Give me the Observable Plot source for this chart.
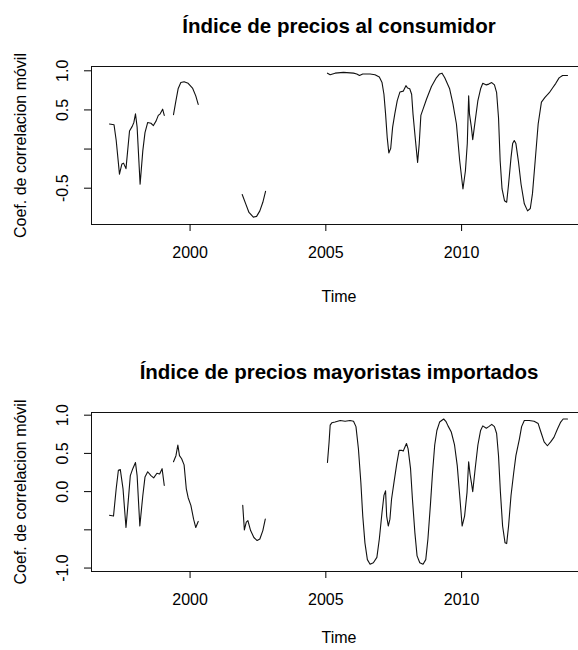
<!DOCTYPE html>
<html>
<head>
<meta charset="utf-8">
<script src="https://cdn.jsdelivr.net/npm/d3@7"></script>
<script src="https://cdn.jsdelivr.net/npm/@observablehq/plot@0.6"></script>
<style>
  html, body { margin: 0; padding: 0; background: #fff; overflow: hidden; }
  #chart { width: 578px; height: 650px; overflow: hidden; position: relative; }
  #chart svg { display: block; overflow: hidden; }
</style>
</head>
<body>
<div id="chart"></div>
<script>
// ---- text ----
const titleCPI = "Índice de precios al consumidor";
const titleIPM = "Índice de precios mayoristas importados";
const yAxisTitle = "Coef. de correlacion móvil";
const xAxisTitle = "Time";

// ---- tick labels ----
const xTicks = [2000, 2005, 2010];
const xTickLabels = ["2000", "2005", "2010"];
const yTicksCPI = [-0.5, 0, 0.5, 1];
const yTickLabelsCPI = ["-0.5", "", "0.5", "1.0"];
const yTicksIPM = [-1, -0.5, 0, 0.5, 1];
const yTickLabelsIPM = ["-1.0", "", "0.0", "0.5", "1.0"];

// ---- series: Índice de precios al consumidor (null = gap) ----
const timeCPI = [
  1997.03, 1997.20, 1997.28, 1997.40, 1997.49, 1997.55, 1997.64, 1997.77, 1997.87, 1997.93,
  1997.99, 1998.05, 1998.16, 1998.26, 1998.34, 1998.44, 1998.56, 1998.65, 1998.75, 1998.83,
  1998.90, 1998.99, 1999.05,
  1999.20,
  1999.39, 1999.48, 1999.56, 1999.66, 1999.78, 1999.93, 2000.09, 2000.21, 2000.30,
  2001.00,
  2001.92, 2002.05, 2002.17, 2002.33, 2002.45, 2002.57, 2002.68, 2002.78,
  2004.00,
  2005.06, 2005.16, 2005.34, 2005.65, 2006.02, 2006.14, 2006.24, 2006.36, 2006.63, 2006.81,
  2006.97, 2007.07, 2007.14, 2007.20, 2007.26, 2007.32, 2007.39, 2007.46, 2007.54, 2007.63,
  2007.73, 2007.85, 2007.95, 2008.01, 2008.09, 2008.16, 2008.21, 2008.29, 2008.38, 2008.44,
  2008.50, 2008.58, 2008.71, 2008.89, 2009.07, 2009.19, 2009.28, 2009.38, 2009.56, 2009.68,
  2009.81, 2009.93, 2010.05, 2010.14, 2010.21, 2010.26, 2010.29, 2010.36, 2010.41, 2010.50,
  2010.60, 2010.70, 2010.78, 2010.91, 2011.00, 2011.11, 2011.21, 2011.29, 2011.36, 2011.42,
  2011.49, 2011.58, 2011.66, 2011.73, 2011.82, 2011.88, 2011.94, 2012.00, 2012.09, 2012.19,
  2012.31, 2012.43, 2012.53, 2012.61, 2012.71, 2012.82, 2012.94, 2013.07, 2013.23, 2013.35,
  2013.47, 2013.59, 2013.72, 2013.90
];
const corrCPI = [
  0.32, 0.31, 0.11, -0.32, -0.19, -0.18, -0.25, 0.23, 0.29, 0.34,
  0.45, 0.28, -0.45, -0.02, 0.21, 0.34, 0.33, 0.30, 0.36, 0.43,
  0.45, 0.51, 0.43,
  null,
  0.44, 0.62, 0.77, 0.85, 0.86, 0.84, 0.78, 0.68, 0.57,
  null,
  -0.58, -0.70, -0.81, -0.87, -0.86, -0.79, -0.68, -0.54,
  null,
  0.97, 0.95, 0.97, 0.98, 0.97, 0.96, 0.94, 0.96, 0.96, 0.95,
  0.92, 0.85, 0.70, 0.45, 0.15, -0.05, 0.01, 0.28, 0.45, 0.62,
  0.73, 0.74, 0.81, 0.78, 0.77, 0.70, 0.45, 0.15, -0.17, 0.07,
  0.43, 0.51, 0.64, 0.80, 0.91, 0.96, 0.97, 0.91, 0.77, 0.58,
  0.32, -0.15, -0.51, -0.28, 0.07, 0.68, 0.45, 0.28, 0.12, 0.36,
  0.62, 0.77, 0.84, 0.82, 0.83, 0.85, 0.82, 0.72, 0.40, -0.15,
  -0.51, -0.66, -0.68, -0.45, -0.11, 0.07, 0.11, 0.07, -0.15, -0.45,
  -0.70, -0.79, -0.76, -0.57, -0.15, 0.32, 0.60, 0.66, 0.72, 0.78,
  0.84, 0.91, 0.94, 0.94
];

// ---- series: Índice de precios mayoristas importados (null = gap) ----
const timeIPM = [
  1997.03, 1997.18, 1997.28, 1997.36, 1997.43, 1997.53, 1997.64, 1997.71, 1997.80, 1997.89,
  1997.99, 1998.05, 1998.15, 1998.26, 1998.34, 1998.44, 1998.56, 1998.66, 1998.78, 1998.88,
  1998.97, 1999.05,
  1999.20,
  1999.39, 1999.48, 1999.55, 1999.61, 1999.69, 1999.78, 1999.86, 1999.93, 2000.03, 2000.13,
  2000.21, 2000.30,
  2001.00,
  2001.94, 2002.00, 2002.07, 2002.13, 2002.23, 2002.35, 2002.47, 2002.57, 2002.68, 2002.77,
  2004.00,
  2005.06, 2005.12, 2005.16, 2005.22, 2005.34, 2005.53, 2005.71, 2005.89, 2006.02, 2006.11,
  2006.20, 2006.29, 2006.36, 2006.44, 2006.53, 2006.63, 2006.75, 2006.88, 2006.97, 2007.07,
  2007.14, 2007.20, 2007.24, 2007.30, 2007.36, 2007.42, 2007.51, 2007.61, 2007.70, 2007.79,
  2007.85, 2007.91, 2007.97, 2008.03, 2008.12, 2008.19, 2008.28, 2008.36, 2008.46, 2008.58,
  2008.68, 2008.76, 2008.85, 2008.93, 2009.01, 2009.09, 2009.19, 2009.34, 2009.42, 2009.50,
  2009.62, 2009.74, 2009.84, 2009.93, 2010.02, 2010.11, 2010.20, 2010.26, 2010.31, 2010.36,
  2010.41, 2010.50, 2010.60, 2010.70, 2010.78, 2010.91, 2011.00, 2011.11, 2011.21, 2011.29,
  2011.36, 2011.43, 2011.51, 2011.60, 2011.66, 2011.73, 2011.82, 2011.92, 2012.00, 2012.13,
  2012.21, 2012.31, 2012.49, 2012.67, 2012.82, 2012.92, 2013.04, 2013.16, 2013.28, 2013.40,
  2013.53, 2013.65, 2013.74, 2013.90
];
const corrIPM = [
  -0.31, -0.32, 0.04, 0.28, 0.29, 0.04, -0.47, -0.18, 0.21, 0.30,
  0.38, 0.21, -0.45, -0.05, 0.19, 0.26, 0.21, 0.18, 0.24, 0.23,
  0.30, 0.08,
  null,
  0.39, 0.47, 0.61, 0.47, 0.43, 0.35, 0.04, -0.08, -0.18, -0.36,
  -0.47, -0.39,
  null,
  -0.18, -0.50, -0.40, -0.38, -0.51, -0.60, -0.64, -0.62, -0.51, -0.36,
  null,
  0.38, 0.65, 0.87, 0.90, 0.91, 0.93, 0.92, 0.93, 0.92, 0.85,
  0.56, 0.12, -0.32, -0.67, -0.89, -0.95, -0.93, -0.86, -0.62, -0.27,
  -0.05, 0.01, -0.32, -0.45, -0.36, -0.10, 0.12, 0.36, 0.54, 0.54,
  0.53, 0.58, 0.63, 0.56, 0.30, -0.10, -0.54, -0.84, -0.93, -0.95,
  -0.89, -0.62, -0.18, 0.25, 0.61, 0.80, 0.91, 0.95, 0.92, 0.86,
  0.78, 0.61, 0.34, -0.05, -0.45, -0.32, -0.01, 0.39, 0.23, 0.12,
  0.00, 0.30, 0.61, 0.80, 0.86, 0.83, 0.85, 0.88, 0.85, 0.76,
  0.47, -0.01, -0.45, -0.67, -0.68, -0.45, -0.05, 0.25, 0.47, 0.69,
  0.85, 0.93, 0.93, 0.92, 0.89, 0.78, 0.65, 0.60, 0.65, 0.71,
  0.82, 0.91, 0.95, 0.95
];

// ---- scale domains ----
const xDomain = [1996.37, 2014.6];
const yDomainCPI = [-0.964, 1.055];
const yDomainIPM = [-1.045, 1.035];

const FONT = "'Liberation Sans', Arial, Helvetica, sans-serif";

function panel({title, times, values, yTicks, yLabels, yDomain, marginTop, marginBottom, xTitleDy}) {
  const rows = times.map((t, i) => ({t, v: values[i]}));
  return Plot.plot({
    width: 578,
    height: 325,
    marginLeft: 91,
    marginRight: -8,
    marginTop,
    marginBottom,
    x: {domain: xDomain},
    y: {domain: yDomain},
    style: {fontFamily: FONT, fontSize: "16px", background: "#fff", color: "#000", overflow: "hidden"},
    marks: [
      Plot.frame({stroke: "#111", strokeWidth: 1}),
      Plot.line(rows, {x: "t", y: "v", stroke: "#111", strokeWidth: 1.1}),
      Plot.axisX({ticks: xTicks, tickSize: 7, tickPadding: 15, fontSize: 16,
        tickFormat: d => xTickLabels[xTicks.indexOf(d)], label: null}),
      Plot.axisY({ticks: yTicks, tickSize: 7, tickPadding: 16.5, tickRotate: -90, fontSize: 16,
        tickFormat: d => yLabels[yTicks.indexOf(d)], label: null}),
      Plot.text([title], {text: d => d, frameAnchor: "top", dy: -40, lineAnchor: "middle",
        textAnchor: "middle", fontSize: 20.5, fontWeight: "bold"}),
      Plot.text([yAxisTitle], {text: d => d, frameAnchor: "left", dx: -71, rotate: -90,
        textAnchor: "middle", lineAnchor: "middle", fontSize: 16}),
      Plot.text([xAxisTitle], {text: d => d, frameAnchor: "bottom", dy: xTitleDy,
        textAnchor: "middle", lineAnchor: "middle", fontSize: 16})
    ]
  });
}

const chart = document.getElementById("chart");
chart.append(panel({
  title: titleCPI, times: timeCPI, values: corrCPI,
  yTicks: yTicksCPI, yLabels: yTickLabelsCPI, yDomain: yDomainCPI,
  marginTop: 66, marginBottom: 101, xTitleDy: 72
}));
chart.append(panel({
  title: titleIPM, times: timeIPM, values: corrIPM,
  yTicks: yTicksIPM, yLabels: yTickLabelsIPM, yDomain: yDomainIPM,
  marginTop: 87, marginBottom: 79, xTitleDy: 66
}));
</script>
</body>
</html>
